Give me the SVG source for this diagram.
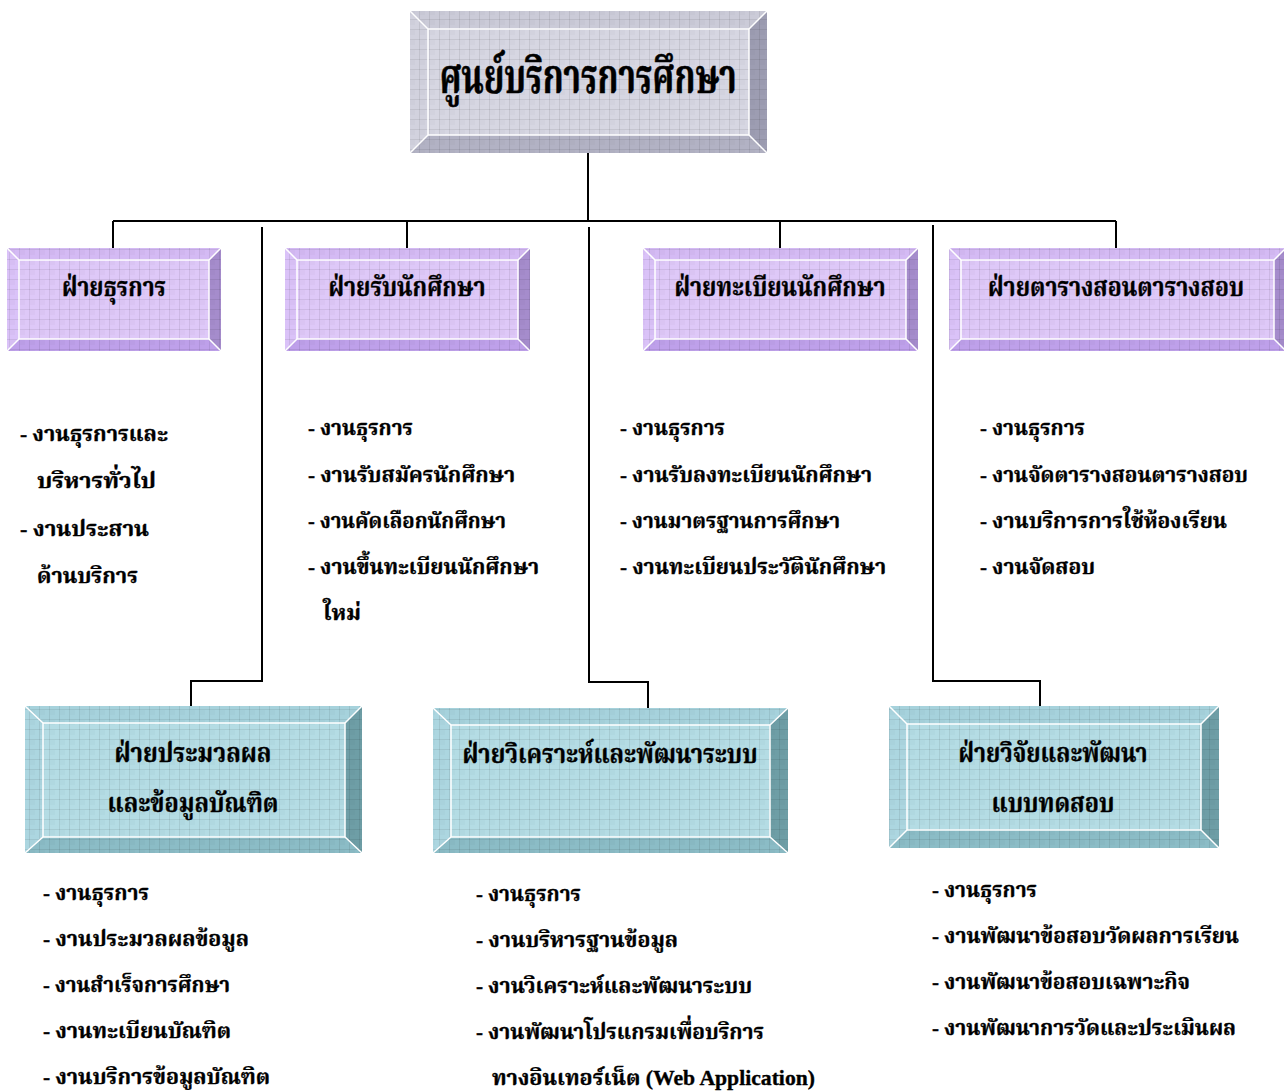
<svg xmlns="http://www.w3.org/2000/svg" width="1284" height="1091" viewBox="0 0 1284 1091">
<style>
text{font-family:"Liberation Serif","Noto Serif Thai","Noto Sans Thai","TH Sarabun New","Garuda","Loma","DejaVu Sans",serif;font-weight:bold;fill:#000;stroke:#000;stroke-width:0.35}
.t0{font-size:48px;stroke-width:0.6}
.t1{font-size:26px}
.li{font-size:22px}
.conn{fill:none;stroke:#000;stroke-width:2}
.hl{fill:none;stroke:#fff;stroke-width:1.5}
.grid{fill:url(#grid)}
.g .face{fill:#d6d6e2}.g .top{fill:#cbcbd8}.g .lft{fill:#d2d2de}.g .rgt{fill:#9d9db2}.g .bot{fill:#b2b2c4}
.p .face{fill:#dec8f8}.p .top{fill:#d4baf4}.p .lft{fill:#dac2f8}.p .rgt{fill:#a58ccc}.p .bot{fill:#bea0ea}
.c .face{fill:#b4dce4}.c .top{fill:#a6d2dc}.c .lft{fill:#acd6e0}.c .rgt{fill:#6e9ea6}.c .bot{fill:#8bbcc6}
</style>
<defs>
<pattern id="grid" width="10" height="10" patternUnits="userSpaceOnUse">
<path d="M9.5 0V10M0 9.5H10" stroke="#000" stroke-opacity="0.08" stroke-width="1" fill="none"/>
<rect x="0" y="0" width="5" height="5" fill="#000" fill-opacity="0.02"/>
</pattern>
</defs>

<g id="connectors">
<path class="conn" d="M588 153V221"/>
<path class="conn" d="M113 221H1116"/>
<path class="conn" d="M113 221V248M407 221V248M780 221V248M1116 221V248"/>
<path class="conn" d="M262 227V681H191V706"/>
<path class="conn" d="M589 227V682H648V708"/>
<path class="conn" d="M933 225V681H1040V706"/>
</g>

<!-- root -->
<g id="root" class="g">
<polygon class="top" points="410,11 767,11 749,29 428,29"/>
<polygon class="lft" points="410,11 428,29 428,135 410,153"/>
<polygon class="rgt" points="767,11 767,153 749,135 749,29"/>
<polygon class="bot" points="410,153 428,135 749,135 767,153"/>
<rect class="face" x="428" y="29" width="321" height="106"/>
<rect class="grid" x="410" y="11" width="357" height="142"/>
<path class="hl" d="M410 11L428 29M767 11L749 29M410 153L428 135M767 153L749 135"/>
<rect class="hl" x="428" y="29" width="321" height="106"/>
<text class="t0" x="588" y="93" text-anchor="middle" textLength="297" lengthAdjust="spacingAndGlyphs">ศูนย์บริการการศึกษา</text>
</g>

<!-- level 1 -->
<g id="n-admin" class="p">
<polygon class="top" points="7,248 221,248 209,260 19,260"/>
<polygon class="lft" points="7,248 19,260 19,339 7,351"/>
<polygon class="rgt" points="221,248 221,351 209,339 209,260"/>
<polygon class="bot" points="7,351 19,339 209,339 221,351"/>
<rect class="face" x="19" y="260" width="190" height="79"/>
<rect class="grid" x="7" y="248" width="214" height="103"/>
<path class="hl" d="M7 248L19 260M221 248L209 260M7 351L19 339M221 351L209 339"/>
<rect class="hl" x="19" y="260" width="190" height="79"/>
<text class="t1" x="114" y="296" text-anchor="middle" textLength="104" lengthAdjust="spacingAndGlyphs">ฝ่ายธุรการ</text>
</g>

<g id="n-admission" class="p">
<polygon class="top" points="285,248 530,248 518,260 297,260"/>
<polygon class="lft" points="285,248 297,260 297,339 285,351"/>
<polygon class="rgt" points="530,248 530,351 518,339 518,260"/>
<polygon class="bot" points="285,351 297,339 518,339 530,351"/>
<rect class="face" x="297" y="260" width="221" height="79"/>
<rect class="grid" x="285" y="248" width="245" height="103"/>
<path class="hl" d="M285 248L297 260M530 248L518 260M285 351L297 339M530 351L518 339"/>
<rect class="hl" x="297" y="260" width="221" height="79"/>
<text class="t1" x="407" y="296" text-anchor="middle" textLength="157" lengthAdjust="spacingAndGlyphs">ฝ่ายรับนักศึกษา</text>
</g>

<g id="n-registrar" class="p">
<polygon class="top" points="643,248 918,248 906,260 655,260"/>
<polygon class="lft" points="643,248 655,260 655,339 643,351"/>
<polygon class="rgt" points="918,248 918,351 906,339 906,260"/>
<polygon class="bot" points="643,351 655,339 906,339 918,351"/>
<rect class="face" x="655" y="260" width="251" height="79"/>
<rect class="grid" x="643" y="248" width="275" height="103"/>
<path class="hl" d="M643 248L655 260M918 248L906 260M643 351L655 339M918 351L906 339"/>
<rect class="hl" x="655" y="260" width="251" height="79"/>
<text class="t1" x="780" y="296" text-anchor="middle" textLength="211" lengthAdjust="spacingAndGlyphs">ฝ่ายทะเบียนนักศึกษา</text>
</g>

<g id="n-timetable" class="p">
<polygon class="top" points="949,248 1286,248 1274,260 961,260"/>
<polygon class="lft" points="949,248 961,260 961,339 949,351"/>
<polygon class="rgt" points="1286,248 1286,351 1274,339 1274,260"/>
<polygon class="bot" points="949,351 961,339 1274,339 1286,351"/>
<rect class="face" x="961" y="260" width="313" height="79"/>
<rect class="grid" x="949" y="248" width="337" height="103"/>
<path class="hl" d="M949 248L961 260M1286 248L1274 260M949 351L961 339M1286 351L1274 339"/>
<rect class="hl" x="961" y="260" width="313" height="79"/>
<text class="t1" x="1116" y="296" text-anchor="middle" textLength="256" lengthAdjust="spacingAndGlyphs">ฝ่ายตารางสอนตารางสอบ</text>
</g>

<!-- level 2 -->
<g id="n-processing" class="c">
<polygon class="top" points="25,706 362,706 345,723 43,723"/>
<polygon class="lft" points="25,706 43,723 43,837 25,853"/>
<polygon class="rgt" points="362,706 362,853 345,837 345,723"/>
<polygon class="bot" points="25,853 43,837 345,837 362,853"/>
<rect class="face" x="43" y="723" width="302" height="114"/>
<rect class="grid" x="25" y="706" width="337" height="147"/>
<path class="hl" d="M25 706L43 723M362 706L345 723M25 853L43 837M362 853L345 837"/>
<rect class="hl" x="43" y="723" width="302" height="114"/>
<text class="t1" x="193" y="762" text-anchor="middle" textLength="157" lengthAdjust="spacingAndGlyphs">ฝ่ายประมวลผล</text>
<text class="t1" x="193" y="812" text-anchor="middle" textLength="171" lengthAdjust="spacingAndGlyphs">และข้อมูลบัณฑิต</text>
</g>

<g id="n-analysis" class="c">
<polygon class="top" points="433,708 788,708 770,725 451,725"/>
<polygon class="lft" points="433,708 451,725 451,837 433,853"/>
<polygon class="rgt" points="788,708 788,853 770,837 770,725"/>
<polygon class="bot" points="433,853 451,837 770,837 788,853"/>
<rect class="face" x="451" y="725" width="319" height="112"/>
<rect class="grid" x="433" y="708" width="355" height="145"/>
<path class="hl" d="M433 708L451 725M788 708L770 725M433 853L451 837M788 853L770 837"/>
<rect class="hl" x="451" y="725" width="319" height="112"/>
<text class="t1" x="610" y="763" text-anchor="middle" textLength="295" lengthAdjust="spacingAndGlyphs">ฝ่ายวิเคราะห์และพัฒนาระบบ</text>
</g>

<g id="n-research" class="c">
<polygon class="top" points="889,706 1219,706 1201,724 907,724"/>
<polygon class="lft" points="889,706 907,724 907,830 889,848"/>
<polygon class="rgt" points="1219,706 1219,848 1201,830 1201,724"/>
<polygon class="bot" points="889,848 907,830 1201,830 1219,848"/>
<rect class="face" x="907" y="724" width="294" height="106"/>
<rect class="grid" x="889" y="706" width="330" height="142"/>
<path class="hl" d="M889 706L907 724M1219 706L1201 724M889 848L907 830M1219 848L1201 830"/>
<rect class="hl" x="907" y="724" width="294" height="106"/>
<text class="t1" x="1053" y="762" text-anchor="middle" textLength="189" lengthAdjust="spacingAndGlyphs">ฝ่ายวิจัยและพัฒนา</text>
<text class="t1" x="1053" y="812" text-anchor="middle" textLength="123" lengthAdjust="spacingAndGlyphs">แบบทดสอบ</text>
</g>

<!-- task lists -->
<g id="list-admin">
<text class="li" x="20" y="441" textLength="148" lengthAdjust="spacingAndGlyphs">- งานธุรการและ</text>
<text class="li" x="37" y="488" textLength="119" lengthAdjust="spacingAndGlyphs">บริหารทั่วไป</text>
<text class="li" x="20" y="536" textLength="129" lengthAdjust="spacingAndGlyphs">- งานประสาน</text>
<text class="li" x="37" y="583" textLength="101" lengthAdjust="spacingAndGlyphs">ด้านบริการ</text>
</g>
<g id="list-admission">
<text class="li" x="308" y="435" textLength="105" lengthAdjust="spacingAndGlyphs">- งานธุรการ</text>
<text class="li" x="308" y="482" textLength="207" lengthAdjust="spacingAndGlyphs">- งานรับสมัครนักศึกษา</text>
<text class="li" x="308" y="528" textLength="198" lengthAdjust="spacingAndGlyphs">- งานคัดเลือกนักศึกษา</text>
<text class="li" x="308" y="574" textLength="231" lengthAdjust="spacingAndGlyphs">- งานขึ้นทะเบียนนักศึกษา</text>
<text class="li" x="323" y="620" textLength="38" lengthAdjust="spacingAndGlyphs">ใหม่</text>
</g>
<g id="list-registrar">
<text class="li" x="620" y="435" textLength="105" lengthAdjust="spacingAndGlyphs">- งานธุรการ</text>
<text class="li" x="620" y="482" textLength="252" lengthAdjust="spacingAndGlyphs">- งานรับลงทะเบียนนักศึกษา</text>
<text class="li" x="620" y="528" textLength="220" lengthAdjust="spacingAndGlyphs">- งานมาตรฐานการศึกษา</text>
<text class="li" x="620" y="574" textLength="266" lengthAdjust="spacingAndGlyphs">- งานทะเบียนประวัตินักศึกษา</text>
</g>
<g id="list-timetable">
<text class="li" x="980" y="435" textLength="105" lengthAdjust="spacingAndGlyphs">- งานธุรการ</text>
<text class="li" x="980" y="482" textLength="268" lengthAdjust="spacingAndGlyphs">- งานจัดตารางสอนตารางสอบ</text>
<text class="li" x="980" y="528" textLength="247" lengthAdjust="spacingAndGlyphs">- งานบริการการใช้ห้องเรียน</text>
<text class="li" x="980" y="574" textLength="115" lengthAdjust="spacingAndGlyphs">- งานจัดสอบ</text>
</g>
<g id="list-processing">
<text class="li" x="43" y="900" textLength="106" lengthAdjust="spacingAndGlyphs">- งานธุรการ</text>
<text class="li" x="43" y="946" textLength="206" lengthAdjust="spacingAndGlyphs">- งานประมวลผลข้อมูล</text>
<text class="li" x="43" y="992" textLength="187" lengthAdjust="spacingAndGlyphs">- งานสำเร็จการศึกษา</text>
<text class="li" x="43" y="1038" textLength="188" lengthAdjust="spacingAndGlyphs">- งานทะเบียนบัณฑิต</text>
<text class="li" x="43" y="1084" textLength="227" lengthAdjust="spacingAndGlyphs">- งานบริการข้อมูลบัณฑิต</text>
</g>
<g id="list-analysis">
<text class="li" x="476" y="901" textLength="105" lengthAdjust="spacingAndGlyphs">- งานธุรการ</text>
<text class="li" x="476" y="947" textLength="202" lengthAdjust="spacingAndGlyphs">- งานบริหารฐานข้อมูล</text>
<text class="li" x="476" y="993" textLength="276" lengthAdjust="spacingAndGlyphs">- งานวิเคราะห์และพัฒนาระบบ</text>
<text class="li" x="476" y="1039" textLength="288" lengthAdjust="spacingAndGlyphs">- งานพัฒนาโปรแกรมเพื่อบริการ</text>
<text class="li" x="492" y="1085" textLength="323" lengthAdjust="spacingAndGlyphs">ทางอินเทอร์เน็ต (Web Application)</text>
</g>
<g id="list-research">
<text class="li" x="932" y="897" textLength="105" lengthAdjust="spacingAndGlyphs">- งานธุรการ</text>
<text class="li" x="932" y="943" textLength="307" lengthAdjust="spacingAndGlyphs">- งานพัฒนาข้อสอบวัดผลการเรียน</text>
<text class="li" x="932" y="989" textLength="258" lengthAdjust="spacingAndGlyphs">- งานพัฒนาข้อสอบเฉพาะกิจ</text>
<text class="li" x="932" y="1035" textLength="304" lengthAdjust="spacingAndGlyphs">- งานพัฒนาการวัดและประเมินผล</text>
</g>
</svg>
